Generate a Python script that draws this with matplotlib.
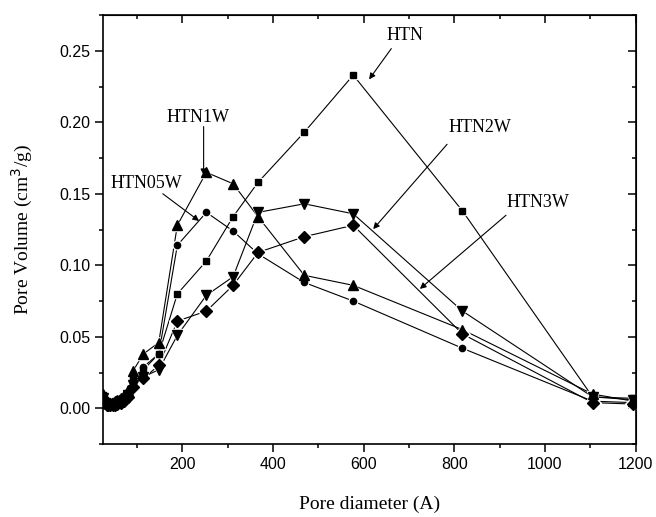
import matplotlib
matplotlib.use("Agg")
import matplotlib.pyplot as plt
from matplotlib.ticker import MultipleLocator

# pore diameter (A) and BJH pore volume (cm3/g) for each sample
diam = [26, 29, 33, 37, 41, 46, 51, 57, 64, 72, 81, 91, 114, 148, 189, 253, 312, 367, 469, 577, 818, 1105, 1195]

htn    = [0.009, 0.006, 0.004, 0.003, 0.003, 0.003, 0.004, 0.005, 0.006, 0.007, 0.011, 0.021,
          0.027, 0.038, 0.080, 0.103, 0.134, 0.158, 0.193, 0.233, 0.138, 0.008, 0.007]
htn05w = [0.008, 0.005, 0.003, 0.002, 0.002, 0.003, 0.003, 0.004, 0.005, 0.007, 0.010, 0.020,
          0.029, 0.038, 0.114, 0.137, 0.124, 0.108, 0.088, 0.075, 0.042, 0.005, 0.004]
htn1w  = [0.010, 0.007, 0.005, 0.004, 0.004, 0.004, 0.005, 0.006, 0.007, 0.009, 0.013, 0.026,
          0.038, 0.046, 0.128, 0.165, 0.157, 0.134, 0.093, 0.086, 0.055, 0.010, 0.005]
htn2w  = [0.007, 0.004, 0.003, 0.002, 0.002, 0.002, 0.003, 0.004, 0.005, 0.006, 0.009, 0.016,
          0.022, 0.027, 0.051, 0.079, 0.092, 0.137, 0.143, 0.136, 0.068, 0.008, 0.006]
htn3w  = [0.006, 0.004, 0.002, 0.002, 0.002, 0.002, 0.002, 0.003, 0.004, 0.005, 0.008, 0.015,
          0.021, 0.030, 0.061, 0.068, 0.086, 0.109, 0.120, 0.128, 0.052, 0.004, 0.003]

series = [
    (htn, "s", 4.5),
    (htn05w, "o", 4.5),
    (htn1w, "^", 7.5),
    (htn2w, "v", 7.5),
    (htn3w, "D", 6.0),
]

serif = "Liberation Serif"
plt.rcParams["font.family"] = "Liberation Sans"

fig = plt.figure(figsize=(6.56, 5.17), dpi=100)
ax = fig.add_axes([0.157, 0.141, 0.812, 0.830])

for y, mk, ms in series:
    ax.plot(diam, y, color="black", lw=0.8, zorder=1)
    ax.plot(diam, y, ls="none", marker=mk, ms=ms + 1.8, color="white", zorder=2)
    ax.plot(diam, y, ls="none", marker=mk, ms=ms, color="black", zorder=3)

# sample labels with arrows
arrow = dict(arrowstyle="-|>", color="black", lw=0.8, mutation_scale=9, shrinkA=0, shrinkB=0)
labels = [
    ("HTN", (691, 0.261), (661, 0.2515), (612, 0.230)),
    ("HTN1W", (234, 0.203), (247, 0.197), (247, 0.163)),
    ("HTN05W", (120, 0.157), (157, 0.150), (237, 0.131)),
    ("HTN2W", (857, 0.196), (784, 0.1846), (621, 0.1253)),
    ("HTN3W", (984, 0.1436), (914, 0.135), (724, 0.0835)),
]
for txt, pos, start, end in labels:
    ax.text(pos[0], pos[1], txt, family=serif, fontsize=13, ha="center", va="center")
    ax.annotate("", xy=end, xytext=start, arrowprops=arrow)

ax.set_xlim(25, 1200)
ax.set_ylim(-0.025, 0.275)
ax.xaxis.set_major_locator(MultipleLocator(200))
ax.xaxis.set_minor_locator(MultipleLocator(100))
ax.yaxis.set_major_locator(MultipleLocator(0.05))
ax.yaxis.set_minor_locator(MultipleLocator(0.025))
ax.yaxis.set_major_formatter(plt.FuncFormatter(lambda v, p: f"{v:.2f}"))

ax.tick_params(which="both", direction="out", labelsize=11.5, width=1.1)
ax.tick_params(which="major", length=5.8)
ax.tick_params(which="minor", length=3)
for s in ax.spines.values():
    s.set_linewidth(1.2)

# mirrored inward ticks on top and right
tw = ax.secondary_xaxis("top")
tw.xaxis.set_major_locator(MultipleLocator(200))
tw.xaxis.set_minor_locator(MultipleLocator(100))
tw.tick_params(which="both", direction="in", labeltop=False, width=1.1)
tw.tick_params(which="major", length=5.8)
tw.tick_params(which="minor", length=3)
rw = ax.secondary_yaxis("right")
rw.yaxis.set_major_locator(MultipleLocator(0.05))
rw.yaxis.set_minor_locator(MultipleLocator(0.025))
rw.tick_params(which="both", direction="in", labelright=False, width=1.1)
rw.tick_params(which="major", length=5.8)
rw.tick_params(which="minor", length=3)

ax.set_xlabel("Pore diameter (A)", family=serif, fontsize=14, labelpad=17)
ax.set_ylabel("Pore Volume (cm$^3$/g)", family=serif, fontsize=14, labelpad=17)

fig.savefig("out.png", dpi=100)
